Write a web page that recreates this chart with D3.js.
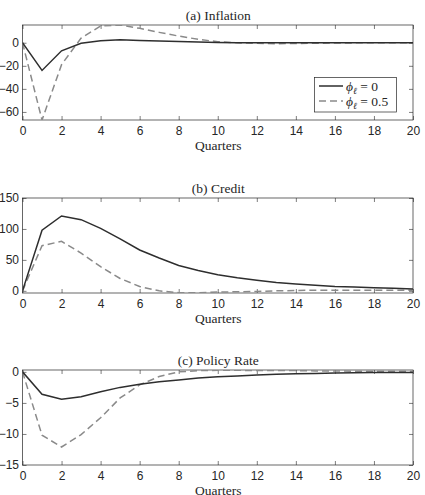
<!DOCTYPE html>
<html>
<head>
<meta charset="utf-8">
<script src="https://cdn.jsdelivr.net/npm/d3@7"></script>
<style>
  body { margin: 0; background: #fff; }
  svg text { fill: #262626; }
</style>
</head>
<body>
<svg width="425" height="495"></svg>
<script>
// quarters on the x axis
var quarters = d3.range(0, 21);
var xTicks = [0, 2, 4, 6, 8, 10, 12, 14, 16, 18, 20];

// (a) inflation
var inflBase = [0, -24, -7, -0.5, 1.7, 2.5, 2, 1.5, 1, 0.6, 0.3, 0.1, 0, 0, 0, 0, 0, 0, 0, 0, 0];
var inflPhi = [0, -67, -19, 4, 14.5, 15.4, 12.5, 9, 5.8, 3, 0.9, 0, -0.5, -0.8, -0.6, -0.4, -0.2, -0.1, 0, 0, 0];
// (b) credit
var credBase = [0, 98, 121, 115, 101, 84, 66, 53, 41, 33, 26, 21, 17, 13.5, 11, 9, 7, 6, 5, 4, 3];
var credPhi = [0, 73, 80, 61, 39, 20, 7, 0, -3, -3, -2, -1.5, -1, 0, 0.5, 1, 1, 1, 1, 1, 1];
// (c) policy rate
var rateBase = [0, -3.6, -4.4, -4.0, -3.2, -2.5, -2.0, -1.6, -1.3, -1.0, -0.8, -0.65, -0.5, -0.4, -0.3, -0.25, -0.2, -0.15, -0.12, -0.1, -0.1];
var ratePhi = [0, -10.2, -12.1, -10.1, -7.4, -4.2, -2.1, -0.75, 0, 0.2, 0.25, 0.25, 0.2, 0.2, 0.2, 0.15, 0.15, 0.1, 0.1, 0.1, 0.1];

var legendLabels = ["0", "0.5"];

var panels = [
  {title: "(a) Inflation", base: inflBase, phi: inflPhi, domain: [-67, 15.4], ticks: [-60, -40, -20, 0], top: 25, bottom: 120, legend: true},
  {title: "(b) Credit", base: credBase, phi: credPhi, domain: [-3.5, 150], ticks: [0, 50, 100, 150], top: 198, bottom: 293},
  {title: "(c) Policy Rate", base: rateBase, phi: ratePhi, domain: [-15, 0.3], ticks: [-15, -10, -5, 0], top: 370, bottom: 465}
];

var svg = d3.select('svg');
var left = 22.5, right = 413;
var tickFont = "'Liberation Sans', Arial, sans-serif";
var serif = "'Liberation Serif', 'DejaVu Serif', serif";

var x = d3.scaleLinear().domain([0, 20]).range([left, right]);

panels.forEach(function(p, i) {
  var y = d3.scaleLinear().domain(p.domain).range([p.bottom, p.top]);
  var g = svg.append('g');

  g.append('clipPath').attr('id', 'clip' + i)
    .append('rect')
    .attr('x', left).attr('y', p.top)
    .attr('width', right - left).attr('height', p.bottom - p.top);

  // axes (MATLAB box, ticks inward)
  var ax = [
    {axis: d3.axisBottom(x).tickValues(xTicks).tickSizeInner(-4).tickSizeOuter(0).tickPadding(6), at: 'translate(0,' + p.bottom + ')'},
    {axis: d3.axisTop(x).tickValues(xTicks).tickSizeInner(-4).tickSizeOuter(0).tickFormat(''), at: 'translate(0,' + p.top + ')'},
    {axis: d3.axisLeft(y).tickValues(p.ticks).tickSizeInner(-4).tickSizeOuter(0).tickPadding(3.5), at: 'translate(' + left + ',0)'},
    {axis: d3.axisRight(y).tickValues(p.ticks).tickSizeInner(-4).tickSizeOuter(0).tickFormat(''), at: 'translate(' + right + ',0)'}
  ];
  ax.forEach(function(a) {
    var s = g.append('g').attr('transform', a.at).call(a.axis);
    s.select('.domain').remove();
    s.selectAll('line').attr('stroke', '#262626').attr('stroke-width', 0.6);
    s.selectAll('text').attr('font-family', tickFont).attr('font-size', 12).attr('fill', '#262626');
  });

  g.append('rect')
    .attr('x', left).attr('y', p.top)
    .attr('width', right - left).attr('height', p.bottom - p.top)
    .attr('fill', 'none').attr('stroke', '#262626').attr('stroke-width', 0.7);

  var line = d3.line().x(function(d, j) { return x(quarters[j]); }).y(function(d) { return y(d); });

  var lines = g.append('g').attr('clip-path', 'url(#clip' + i + ')');
  lines.append('path').datum(p.phi)
    .attr('d', line).attr('fill', 'none')
    .attr('stroke', '#8a8a8a').attr('stroke-width', 1.5)
    .attr('stroke-dasharray', '7,4');
  lines.append('path').datum(p.base)
    .attr('d', line).attr('fill', 'none')
    .attr('stroke', '#2e2e2e').attr('stroke-width', 1.5);

  g.append('text')
    .attr('x', (left + right) / 2 + 0.5).attr('y', p.top - 5.5)
    .attr('text-anchor', 'middle')
    .attr('font-family', serif).attr('font-size', 13.5)
    .text(p.title);

  g.append('text')
    .attr('x', (left + right) / 2 + 0.5).attr('y', p.bottom + 29.5)
    .attr('text-anchor', 'middle')
    .attr('font-family', serif).attr('font-size', 13.5)
    .text('Quarters');

  if (p.legend) {
    var lg = g.append('g');
    lg.append('rect')
      .attr('x', 314.5).attr('y', 77.5).attr('width', 82).attr('height', 34.5)
      .attr('fill', '#fff').attr('stroke', '#262626').attr('stroke-width', 0.7);
    legendLabels.forEach(function(lbl, k) {
      var ly = 86 + k * 15;
      lg.append('line')
        .attr('x1', 319).attr('x2', 343).attr('y1', ly).attr('y2', ly)
        .attr('stroke', k === 0 ? '#2e2e2e' : '#8a8a8a')
        .attr('stroke-width', 1.5)
        .attr('stroke-dasharray', k === 0 ? null : '7,4');
      var t = lg.append('text')
        .attr('x', 346).attr('y', ly + 4.5)
        .attr('font-family', serif).attr('font-size', 13.5);
      t.append('tspan').attr('font-style', 'italic').text('ϕ');
      t.append('tspan').attr('font-style', 'italic').attr('font-size', 9.5).attr('dy', 3).text('ℓ');
      t.append('tspan').attr('dy', -3).text(' = ' + lbl);
    });
  }
});
</script>
</body>
</html>
